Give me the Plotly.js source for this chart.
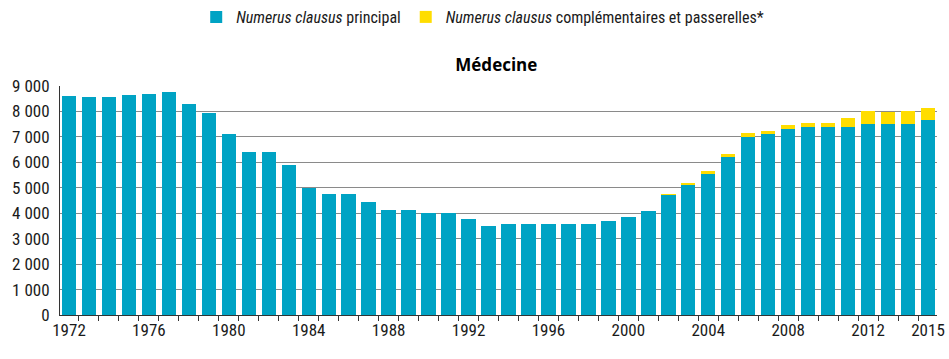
<!DOCTYPE html>
<html>
<head>
<meta charset="utf-8">
<script src="https://cdn.plot.ly/plotly-3.0.1.min.js"></script>
<style>html,body{margin:0;padding:0;background:#fff;}#chart{width:949px;height:359px;}</style>
</head>
<body>
<div id="chart"></div>
<script>
const years = [1972,1973,1974,1975,1976,1977,1978,1979,1980,1981,1982,1983,1984,1985,1986,1987,1988,1989,1990,1991,1992,1993,1994,1995,1996,1997,1998,1999,2000,2001,2002,2003,2004,2005,2006,2007,2008,2009,2010,2011,2012,2013,2014,2015];
const principal = [8590,8560,8560,8640,8690,8750,8280,7940,7120,6410,6410,5900,5000,4770,4770,4460,4120,4120,4010,4000,3770,3510,3580,3580,3580,3580,3580,3700,3850,4100,4700,5100,5550,6200,7000,7130,7300,7400,7400,7400,7500,7500,7500,7650];
const complementaires = [0,0,0,0,0,0,0,0,0,0,0,0,0,0,0,0,0,0,0,0,0,0,0,0,0,0,0,0,0,0,70,80,110,130,150,120,170,150,150,350,520,480,520,500];
const tickYears = [1972,1976,1980,1984,1988,1992,1996,2000,2004,2008,2012,2015];
const yTicks = [0,1000,2000,3000,4000,5000,6000,7000,8000,9000];
const yTickText = ["0","1 000","2 000","3 000","4 000","5 000","6 000","7 000","8 000","9 000"];
const legendNames = ["<i>Numerus clausus</i> principal", "<i>Numerus clausus</i> complémentaires et passerelles*"];
const chartTitle = "<b>Médecine</b>";

const FONT = "'Liberation Sans Narrow', 'Arial Narrow', 'Roboto Condensed', 'Liberation Sans', sans-serif";
const tickMarks = years.map(y => y - 0.5).concat([years[years.length-1] + 0.5]);
const xr = [years[0] - 0.45, years[years.length-1] + 0.45];

const data = [
  {type:'bar', x: years, y: principal, name: legendNames[0], marker:{color:'#00a3c4'}},
  {type:'bar', x: years, y: complementaires, name: legendNames[1], marker:{color:'#ffdd00'}},
  {type:'scatter', x:[years[0]], y:[0], xaxis:'x2', mode:'markers', marker:{opacity:0}, showlegend:false, hoverinfo:'skip'}
];

const layout = {
  width: 949, height: 359,
  barmode: 'stack', bargap: 0.28,
  margin: {l: 60, r: 12, t: 86, b: 44},
  paper_bgcolor: '#fff', plot_bgcolor: '#fff',
  font: {family: FONT, color: '#1a1a1a', size: 17},
  title: {text: chartTitle, x: 0.523, xanchor: 'center', y: 0.82, yanchor: 'middle', font: {family: "'Open Sans', 'Liberation Sans', sans-serif", size: 17, color: '#000'}},
  showlegend: true,
  legend: {orientation: 'h', x: 0.482, xanchor: 'center', y: 1.0, yref: 'container', yanchor: 'top',
           font: {family: FONT, size: 16, color: '#1a1a1a'}, itemwidth: 30, traceorder: 'normal', itemsizing:'constant'},
  xaxis: {range: xr, tickmode: 'array', tickvals: tickYears, ticktext: tickYears.map(String), ticks: '', showgrid: false,
          showline: true, linecolor: '#333', linewidth: 1, zeroline: false, tickfont: {size: 17}, fixedrange: true},
  xaxis2: {range: xr, overlaying: 'x', side: 'bottom', tickmode: 'array', tickvals: tickMarks, ticks: 'outside', ticklen: 5,
           tickcolor: '#333', showticklabels: false, showgrid: false, showline: false, zeroline: false, anchor: 'y'},
  yaxis: {range: [0, 9000], tickmode: 'array', tickvals: yTicks, ticktext: yTickText, showgrid: true, gridcolor: '#8a8a8a',
          gridwidth: 1, showline: true, linecolor: '#333', linewidth: 1, zeroline: false, ticks: '', tickfont: {size: 17}, ticklabelstandoff: 6}
};

Plotly.newPlot('chart', data, layout, {displayModeBar: false, staticPlot: true});
</script>
</body>
</html>
